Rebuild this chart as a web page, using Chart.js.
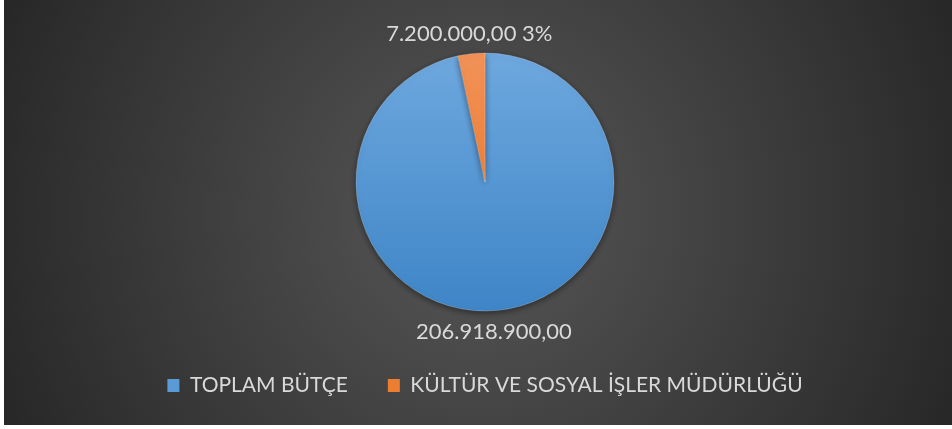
<!DOCTYPE html>
<html><head><meta charset="utf-8">
<script src="https://cdn.jsdelivr.net/npm/chart.js@4.4.1/dist/chart.umd.min.js"></script>
<style>
html,body{margin:0;padding:0;background:#fff;}
#wrap{position:absolute;left:4px;top:0;width:948px;height:425px;}
</style></head>
<body>
<div id="wrap"><canvas id="c" width="948" height="425"></canvas></div>
<script>
const categories = ["TOPLAM BÜTÇE", "KÜLTÜR VE SOSYAL İŞLER MÜDÜRLÜĞÜ"];
const values = [206918900.00, 7200000.00];
const labelTexts = ["206.918.900,00", "7.200.000,00 3%"];

const FONT = "Lato";
const TXT = "#d9d9d9";

const bgPlugin = {
  id: 'bg',
  beforeDraw(chart) {
    const {ctx, width, height} = chart;
    const g = ctx.createRadialGradient(width*0.5, height*0.5, 0, width*0.5, height*0.5, width*0.55);
    g.addColorStop(0, '#575757');
    g.addColorStop(1, '#272727');
    ctx.save();
    ctx.fillStyle = g;
    ctx.fillRect(0, 0, width, height);
    ctx.restore();
  },
  beforeDatasetsDraw(chart) {
    const ctx = chart.ctx;
    ctx.save();
    ctx.shadowColor = 'rgba(0,0,0,0.45)';
    ctx.shadowBlur = 6;
    ctx.shadowOffsetY = 2;
  },
  afterDatasetsDraw(chart) {
    chart.ctx.restore();
    const ctx = chart.ctx;
    const meta = chart.getDatasetMeta(0);
    ctx.save();
    ctx.font = "22px " + FONT;
    ctx.fillStyle = TXT;
    ctx.textAlign = 'center';
    ctx.textBaseline = 'middle';
    const offs = [22, 20];
    const dx = [-7, 0];
    meta.data.forEach((arc, i) => {
      const p = arc.getProps(['x','y','startAngle','endAngle','outerRadius'], true);
      const mid = (p.startAngle + p.endAngle) / 2;
      const r = p.outerRadius + offs[i];
      ctx.fillText(labelTexts[i], p.x + Math.cos(mid) * r + dx[i], p.y + Math.sin(mid) * r);
    });
    ctx.restore();
  }
};

function grad(chart, top, bottom) {
  const a = chart.chartArea;
  if (!a) return top;
  const cy = (a.top + a.bottom) / 2;
  const g = chart.ctx.createLinearGradient(0, cy - 130, 0, cy + 130);
  g.addColorStop(0, top);
  g.addColorStop(1, bottom);
  return g;
}

new Chart(document.getElementById('c'), {
  type: 'pie',
  data: {
    labels: categories,
    datasets: [{
      data: values,
      radius: 129,
      borderWidth: 0.6,
      borderColor: 'rgba(255,255,255,0.35)',
      backgroundColor: (c) => c.dataIndex === 0
        ? grad(c.chart, '#6ea8de', '#3e85c7')
        : grad(c.chart, '#f29257', '#e8701f')
    }]
  },
  options: {
    responsive: false,
    animation: false,
    layout: { padding: { left: 14, right: 0, top: 29, bottom: 19 } },
    plugins: {
      tooltip: { enabled: false },
      legend: {
        position: 'bottom',
        labels: {
          color: TXT,
          font: { family: FONT, size: 21 },
          boxWidth: 12,
          boxHeight: 13,
          padding: 40,
          generateLabels(chart) {
            const cols = ['#5b9bd5', '#ed7d31'];
            return chart.data.labels.map((l, i) => ({
              text: l, fillStyle: cols[i], strokeStyle: cols[i], lineWidth: 0,
              fontColor: TXT, index: i, hidden: false
            }));
          }
        }
      }
    }
  },
  plugins: [bgPlugin]
});
</script>
</body></html>
